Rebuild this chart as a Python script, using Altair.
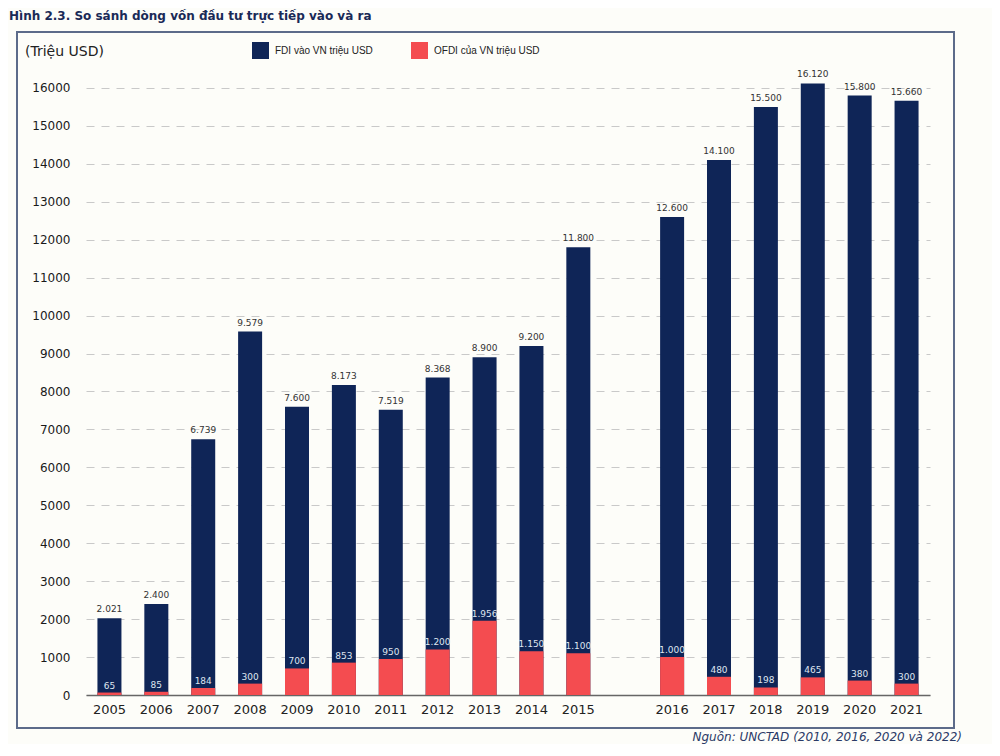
import altair as alt
import pandas as pd

# ---- data ----
years = [2005, 2006, 2007, 2008, 2009, 2010, 2011, 2012, 2013, 2014, 2015,
         2016, 2017, 2018, 2019, 2020, 2021]
fdi = [2021, 2400, 6739, 9579, 7600, 8173, 7519, 8368, 8900, 9200, 11800,
       12600, 14100, 15500, 16120, 15800, 15660]
ofdi = [65, 85, 184, 300, 700, 853, 950, 1200, 1956, 1150, 1100,
        1000, 480, 198, 465, 380, 300]
y_ticks = list(range(0, 16001, 1000))
series_names = ["FDI vào VN triệu USD", "OFDI của VN triệu USD"]
title_text = "Hình 2.3. So sánh dòng vốn đầu tư trực tiếp vào và ra"
unit_text = "(Triệu USD)"
source_text = "Nguồn: UNCTAD (2010, 2016, 2020 và 2022)"

NAVY = "#0f2557"
RED = "#f44c50"

gap = " "
slots = [str(y) for y in years[:11]] + [gap] + [str(y) for y in years[11:]]


def fmt(v):
    return f"{v:,}".replace(",", ".")


df = pd.DataFrame({
    "year": [str(y) for y in years],
    "fdi": fdi,
    "ofdi": ofdi,
    "fdi_lbl": [fmt(v) for v in fdi],
    "ofdi_lbl": [fmt(v) for v in ofdi],
    "s_fdi": [series_names[0]] * len(years),
    "s_ofdi": [series_names[1]] * len(years),
})

FONT = "DejaVu Sans"

x_enc = alt.X(
    "year:N",
    scale=alt.Scale(domain=slots, paddingInner=0, paddingOuter=0),
    axis=alt.Axis(title=None, labelAngle=0, ticks=False, labelFontSize=13,
                  labelColor="#222222", labelPadding=8, domainColor="#666666",
                  domainWidth=1.5, grid=False, labelFont=FONT),
)
y_scale = alt.Scale(domain=[0, 16500], nice=False)
y_axis = alt.Axis(title=None, values=y_ticks, format="d", ticks=False,
                  domain=False, labelFontSize=12, labelColor="#1a1a1a",
                  labelPadding=16, labelOverlap=False, grid=True,
                  gridDash=[8, 7], gridColor="#c9c9c9", gridWidth=1,
                  labelFont=FONT)


def y_enc(field):
    return alt.Y(field, type="quantitative", scale=y_scale, axis=y_axis)


color_scale = alt.Scale(domain=series_names, range=[NAVY, RED])
legend = alt.Legend(title=None, orient="none", legendX=166, legendY=-27,
                    direction="horizontal", symbolType="square",
                    symbolSize=289, symbolStrokeWidth=0, labelFontSize=10,
                    labelFont="Liberation Sans", labelColor="#222222",
                    labelOffset=6, columnPadding=38, padding=0)

base = alt.Chart(df)

fdi_bar = base.mark_bar(size=24).encode(
    x=x_enc,
    y=y_enc("fdi"),
    color=alt.Color("s_fdi:N", scale=color_scale, legend=legend),
)
ofdi_bar = base.mark_bar(size=24).encode(
    x=x_enc,
    y=y_enc("ofdi"),
    color=alt.Color("s_ofdi:N", scale=color_scale, legend=legend),
)
fdi_txt = base.mark_text(baseline="bottom", dy=-4, fontSize=9, font=FONT,
                         color="#333333").encode(
    x=x_enc, y=y_enc("fdi"), text="fdi_lbl:N")
ofdi_txt = base.mark_text(baseline="bottom", dy=-2, fontSize=9, font=FONT,
                          color="#dfe6f0").encode(
    x=x_enc, y=y_enc("ofdi"), text="ofdi_lbl:N")

dummy = alt.Chart(pd.DataFrame({"k": [0]}))
frame = dummy.mark_rect(fillOpacity=0, stroke="#5c6b8a", strokeWidth=2).encode(
    x=alt.value(-69), x2=alt.value(868), y=alt.value(-37), y2=alt.value(659))
title = dummy.mark_text(align="left", baseline="middle", fontSize=12,
                        fontWeight="bold", font=FONT, color="#1a2a57").encode(
    x=alt.value(-77), y=alt.value(-53), text=alt.value(title_text))
unit = dummy.mark_text(align="left", baseline="middle", fontSize=14,
                       font=FONT, color="#222222").encode(
    x=alt.value(-61), y=alt.value(-17), text=alt.value(unit_text))
source = dummy.mark_text(align="right", baseline="bottom", fontSize=12,
                         fontStyle="italic", font=FONT, color="#2b3a67").encode(
    x=alt.value(876), y=alt.value(675), text=alt.value(source_text))

chart = alt.layer(
    frame, fdi_bar, ofdi_bar, fdi_txt, ofdi_txt, title, unit, source
).properties(
    width=844, height=626,
    autosize=alt.AutoSizeParams(type="none"),
    padding={"left": 78, "top": 61, "right": 62, "bottom": 49},
    background="#fdfdf9",
).configure_view(stroke=None)

chart.save("out.html", embed_options={"renderer": "svg", "actions": False})
